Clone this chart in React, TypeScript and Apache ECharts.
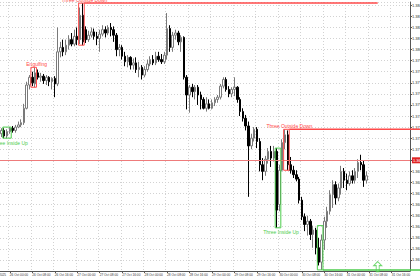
import React, { useEffect, useRef } from "react";
import * as echarts from "echarts";

// ---- Data (hourly bars) ----
const opens = [
  1.3724, 1.3727, 1.3722, 1.3726, 1.3729, 1.3727, 1.3730, 1.3732, 1.3734, 1.3747,
  1.3768, 1.3775, 1.3769, 1.3779, 1.3775, 1.3776, 1.3772, 1.3775, 1.3771, 1.3774,
  1.3769, 1.3798, 1.3802, 1.3798, 1.3804, 1.3809, 1.3805, 1.3812, 1.3809, 1.3831,
  1.3818, 1.3809, 1.3813, 1.3816, 1.3812, 1.3810, 1.3814, 1.3818, 1.3815, 1.3820,
  1.3818, 1.3813, 1.3800, 1.3802, 1.3794, 1.3789, 1.3793, 1.3786, 1.3788, 1.3782,
  1.3784, 1.3777, 1.3782, 1.3787, 1.3791, 1.3788, 1.3794, 1.3791, 1.3789, 1.3795,
  1.3819, 1.3802, 1.3813, 1.3815, 1.3807, 1.3811, 1.3775, 1.3759, 1.3766, 1.3762,
  1.3766, 1.3759, 1.3755, 1.3747, 1.3751, 1.3747, 1.3752, 1.3755, 1.3757, 1.3767,
  1.3773, 1.3764, 1.3760, 1.3764, 1.3766, 1.3755, 1.3744, 1.3738, 1.3731, 1.3713,
  1.3720, 1.3728, 1.3717, 1.3696, 1.3690, 1.3701, 1.3708, 1.3702, 1.3708, 1.3660,
  1.3691, 1.3716, 1.3723, 1.3696, 1.3691, 1.3687, 1.3683, 1.3664, 1.3649, 1.3642,
  1.3645, 1.3633, 1.3637, 1.3621, 1.3608, 1.3628, 1.3645, 1.3654, 1.3669, 1.3678,
  1.3666, 1.3675, 1.3690, 1.3682, 1.3679, 1.3686, 1.3682, 1.3690, 1.3698, 1.3696,
  1.3682,
];
const closes = [
  1.3727, 1.3722, 1.3726, 1.3729, 1.3727, 1.3730, 1.3732, 1.3734, 1.3747, 1.3768,
  1.3775, 1.3770, 1.3779, 1.3775, 1.3776, 1.3772, 1.3775, 1.3771, 1.3774, 1.3769,
  1.3798, 1.3802, 1.3798, 1.3804, 1.3809, 1.3805, 1.3812, 1.3809, 1.3831, 1.3807,
  1.3809, 1.3813, 1.3816, 1.3812, 1.3810, 1.3814, 1.3818, 1.3815, 1.3820, 1.3818,
  1.3813, 1.3800, 1.3802, 1.3794, 1.3789, 1.3793, 1.3786, 1.3788, 1.3782, 1.3784,
  1.3777, 1.3782, 1.3787, 1.3791, 1.3788, 1.3794, 1.3791, 1.3789, 1.3795, 1.3819,
  1.3802, 1.3813, 1.3815, 1.3807, 1.3811, 1.3775, 1.3759, 1.3766, 1.3762, 1.3766,
  1.3759, 1.3755, 1.3747, 1.3751, 1.3747, 1.3752, 1.3755, 1.3757, 1.3767, 1.3773,
  1.3764, 1.3760, 1.3764, 1.3766, 1.3755, 1.3744, 1.3738, 1.3731, 1.3713, 1.3720,
  1.3728, 1.3717, 1.3696, 1.3690, 1.3701, 1.3708, 1.3702, 1.3708, 1.3655, 1.3691,
  1.3716, 1.3723, 1.3696, 1.3691, 1.3687, 1.3683, 1.3664, 1.3649, 1.3642, 1.3645,
  1.3633, 1.3637, 1.3621, 1.3608, 1.3628, 1.3645, 1.3654, 1.3669, 1.3678, 1.3666,
  1.3675, 1.3690, 1.3682, 1.3679, 1.3686, 1.3682, 1.3690, 1.3698, 1.3696, 1.3682,
  1.3686,
];
const lows = [
  1.3721, 1.3720, 1.3720, 1.3724, 1.3725, 1.3725, 1.3729, 1.3730, 1.3732, 1.3746,
  1.3764, 1.3767, 1.3766, 1.3773, 1.3771, 1.3769, 1.3768, 1.3767, 1.3764, 1.3757,
  1.3767, 1.3793, 1.3794, 1.3795, 1.3800, 1.3803, 1.3803, 1.3804, 1.3805, 1.3804,
  1.3806, 1.3807, 1.3811, 1.3809, 1.3804, 1.3798, 1.3812, 1.3811, 1.3813, 1.3812,
  1.3807, 1.3794, 1.3794, 1.3791, 1.3785, 1.3784, 1.3782, 1.3782, 1.3779, 1.3775,
  1.3773, 1.3775, 1.3780, 1.3785, 1.3786, 1.3786, 1.3789, 1.3787, 1.3787, 1.3791,
  1.3798, 1.3798, 1.3809, 1.3804, 1.3798, 1.3773, 1.3746, 1.3743, 1.3757, 1.3755,
  1.3750, 1.3746, 1.3746, 1.3744, 1.3746, 1.3746, 1.3749, 1.3752, 1.3755, 1.3765,
  1.3762, 1.3757, 1.3757, 1.3758, 1.3752, 1.3740, 1.3735, 1.3727, 1.3667, 1.3710,
  1.3717, 1.3711, 1.3690, 1.3682, 1.3686, 1.3697, 1.3694, 1.3699, 1.3639, 1.3654,
  1.3690, 1.3710, 1.3691, 1.3688, 1.3684, 1.3681, 1.3661, 1.3646, 1.3636, 1.3632,
  1.3628, 1.3621, 1.3615, 1.3605, 1.3601, 1.3619, 1.3639, 1.3651, 1.3657, 1.3660,
  1.3663, 1.3669, 1.3675, 1.3673, 1.3677, 1.3679, 1.3679, 1.3684, 1.3691, 1.3676,
  1.3679,
];
const highs = [
  1.3729, 1.3729, 1.3728, 1.3730, 1.3731, 1.3732, 1.3735, 1.3737, 1.3751, 1.3771,
  1.3777, 1.3780, 1.3784, 1.3782, 1.3779, 1.3778, 1.3777, 1.3776, 1.3775, 1.3776,
  1.3820, 1.3807, 1.3809, 1.3809, 1.3813, 1.3815, 1.3818, 1.3820, 1.3838, 1.3842,
  1.3821, 1.3817, 1.3820, 1.3819, 1.3816, 1.3818, 1.3822, 1.3821, 1.3822, 1.3824,
  1.3821, 1.3815, 1.3805, 1.3804, 1.3798, 1.3795, 1.3794, 1.3792, 1.3793, 1.3789,
  1.3786, 1.3785, 1.3791, 1.3794, 1.3795, 1.3798, 1.3798, 1.3796, 1.3798, 1.3833,
  1.3822, 1.3816, 1.3818, 1.3817, 1.3813, 1.3812, 1.3777, 1.3768, 1.3769, 1.3768,
  1.3768, 1.3762, 1.3757, 1.3757, 1.3755, 1.3755, 1.3757, 1.3759, 1.3769, 1.3775,
  1.3775, 1.3767, 1.3766, 1.3775, 1.3767, 1.3757, 1.3747, 1.3741, 1.3735, 1.3724,
  1.3730, 1.3730, 1.3720, 1.3702, 1.3704, 1.3711, 1.3713, 1.3713, 1.3711, 1.3696,
  1.3719, 1.3728, 1.3727, 1.3703, 1.3695, 1.3691, 1.3685, 1.3667, 1.3652, 1.3650,
  1.3647, 1.3641, 1.3639, 1.3630, 1.3633, 1.3649, 1.3658, 1.3673, 1.3682, 1.3681,
  1.3679, 1.3695, 1.3693, 1.3688, 1.3690, 1.3691, 1.3693, 1.3701, 1.3705, 1.3700,
  1.3690,
];
const emptySlots = 15;

const tickLabels = [
  "26 Oct 00:00", "26 Oct 08:00", "26 Oct 16:00", "27 Oct 00:00", "27 Oct 08:00",
  "27 Oct 16:00", "28 Oct 00:00", "28 Oct 08:00", "28 Oct 16:00", "29 Oct 00:00",
  "29 Oct 08:00", "29 Oct 16:00", "30 Oct 00:00", "30 Oct 08:00", "30 Oct 16:00",
  "31 Oct 00:00", "31 Oct 08:00", "31 Oct 16:00",
];
const startLabel = "25 Oct 2025";
const firstTickBar = 3;
const barsPerTick = 8;

// Candlestick pattern detections
const patternNames = ["Three Inside Up", "Engulfing", "Three Outside Down", "Three Inside Up", "Three Outside Down", ""];
const patternStart = [1, 11, 28, 98, 101, 113];
const patternEnd = [3, 12, 29, 99, 102, 114];
const patternHigh = [1.3730, 1.3784, 1.3842, 1.3711, 1.3728, 1.3641];
const patternLow = [1.3720, 1.3766, 1.3804, 1.3639, 1.3691, 1.3601];
const patternBull = [true, false, false, true, false, true];
const patternLineEnd: (number | string | null)[] = [null, null, 134, null, "edge", "edge"];

const arrowBars = [134];
const arrowPrices = [1.3604];

const FONT = "'Liberation Sans', Arial, sans-serif";
const RED = "#ff4a4a";
const GREEN = "#4ccd4c";

export default function App() {
  const ref = useRef<HTMLDivElement>(null);
  useEffect(() => {
    const chart = echarts.init(ref.current!, null, { renderer: "svg" });
    const total = closes.length + emptySlots;
    const categories = Array.from({ length: total }, (_, i) => String(i));
    const candles = opens.map((o, i) => [o, closes[i], lows[i], highs[i]]);
    const isTick = (i: number) => i >= firstTickBar && (i - firstTickBar) % barsPerTick === 0;
    const lastClose = closes[closes.length - 1];

    chart.setOption({
      animation: false,
      backgroundColor: "#ffffff",
      grid: { left: 0, right: 10, top: 2, bottom: 9, containLabel: false, outerBoundsMode: "none" },
      xAxis: {
        type: "category",
        data: categories,
        boundaryGap: true,
        axisLine: { lineStyle: { color: "#555555", width: 1 } },
        axisTick: {
          show: true,
          alignWithLabel: true,
          interval: (i: number) => isTick(i),
          length: 2,
          lineStyle: { color: "#555555" },
        },
        axisLabel: {
          interval: (i: number) => isTick(i),
          formatter: (_v: string, i: number) => tickLabels[(i - firstTickBar) / barsPerTick] ?? "",
          align: "left",
          fontSize: 3.2,
          color: "#333333",
          margin: 2.5,
          fontFamily: FONT,
          hideOverlap: false,
        },
        splitLine: {
          show: true,
          interval: (i: number) => isTick(i),
          lineStyle: { color: "#d2d2d2", type: [1, 2], width: 1 },
        },
      },
      yAxis: {
        type: "value",
        position: "right",
        min: 1.36,
        max: 1.3843,
        interval: 0.001,
        axisLine: { show: true, lineStyle: { color: "#555555" } },
        axisTick: { show: true, length: 2, lineStyle: { color: "#555555" } },
        axisLabel: {
          formatter: (v: number) => v.toFixed(4),
          fontSize: 4,
          color: "#333333",
          margin: 2,
          showMinLabel: false,
          showMaxLabel: false,
          fontFamily: FONT,
        },
        splitLine: { show: true, lineStyle: { color: "#d2d2d2", type: [1, 2], width: 1 } },
      },
      graphic: [
        {
          type: "text",
          x: 6,
          y: 273.5,
          style: { text: startLabel, align: "right", verticalAlign: "top", fontSize: 3.2, fill: "#333333", fontFamily: FONT },
        },
      ],
      series: [
        {
          type: "candlestick",
          data: candles,
          barWidth: 2,
          itemStyle: {
            color: "#ffffff",
            color0: "#000000",
            borderColor: "#7a7a7a",
            borderColor0: "#000000",
            borderWidth: 1,
          },
          markLine: {
            symbol: "none",
            silent: true,
            animation: false,
            lineStyle: { color: "#ee7b7b", width: 1, type: "solid" },
            label: {
              show: true,
              position: "end",
              formatter: lastClose.toFixed(4),
              backgroundColor: "#e02424",
              color: "#ffffff",
              fontSize: 4,
              padding: [1, 1],
              distance: 2,
              fontFamily: FONT,
            },
            data: [{ yAxis: lastClose }],
          },
          z: 2,
        },
        {
          type: "custom",
          data: patternStart.map((s, i) => [s, patternEnd[i], patternHigh[i], patternLow[i]]),
          encode: { x: [0, 1], y: [2, 3] },
          clip: false,
          z: 5,
          renderItem: (params: any, api: any) => {
            const i = params.dataIndex;
            const band = api.size([1, 0])[0];
            const pTop = api.coord([patternStart[i], patternHigh[i]]);
            const pBot = api.coord([patternEnd[i], patternLow[i]]);
            const x1 = pTop[0] - band / 2;
            const x2 = pBot[0] + band / 2;
            const yt = pTop[1];
            const yb = pBot[1];
            const bull = patternBull[i];
            const color = bull ? GREEN : RED;
            const children: any[] = [
              {
                type: "rect",
                shape: { x: x1, y: yt, width: x2 - x1, height: yb - yt },
                style: { fill: "none", stroke: color, lineWidth: 1 },
              },
            ];
            if (patternNames[i]) {
              children.push({
                type: "text",
                style: {
                  text: patternNames[i],
                  x: (x1 + x2) / 2 + 3,
                  y: bull ? yb + 2 : yt - 1,
                  align: "center",
                  verticalAlign: bull ? "top" : "bottom",
                  fill: color,
                  fontSize: 5,
                  fontFamily: FONT,
                },
              });
            }
            const end = patternLineEnd[i];
            if (end !== null) {
              const ly = bull ? yb : yt;
              const xe = end === "edge" ? api.getWidth() : api.coord([end as number, patternHigh[i]])[0];
              children.push({
                type: "line",
                shape: { x1: x2, y1: ly, x2: xe, y2: ly },
                style: { stroke: color, lineWidth: 1.5 },
              });
            }
            return { type: "group", children };
          },
        },
        {
          type: "scatter",
          data: arrowBars.map((b, i) => [b, arrowPrices[i]]),
          symbol: "path://M4,0 L8,4 L5.5,4 L5.5,10 L2.5,10 L2.5,4 L0,4 Z",
          symbolSize: [8, 10],
          itemStyle: { color: "rgba(255,255,255,0)", borderColor: GREEN, borderWidth: 1 },
          z: 6,
        },
      ],
    });
    return () => chart.dispose();
  }, []);

  return (
    <div
      ref={ref}
      style={{ position: "fixed", left: 0, top: 0, width: 420, height: 280, background: "#fff" }}
    />
  );
}
